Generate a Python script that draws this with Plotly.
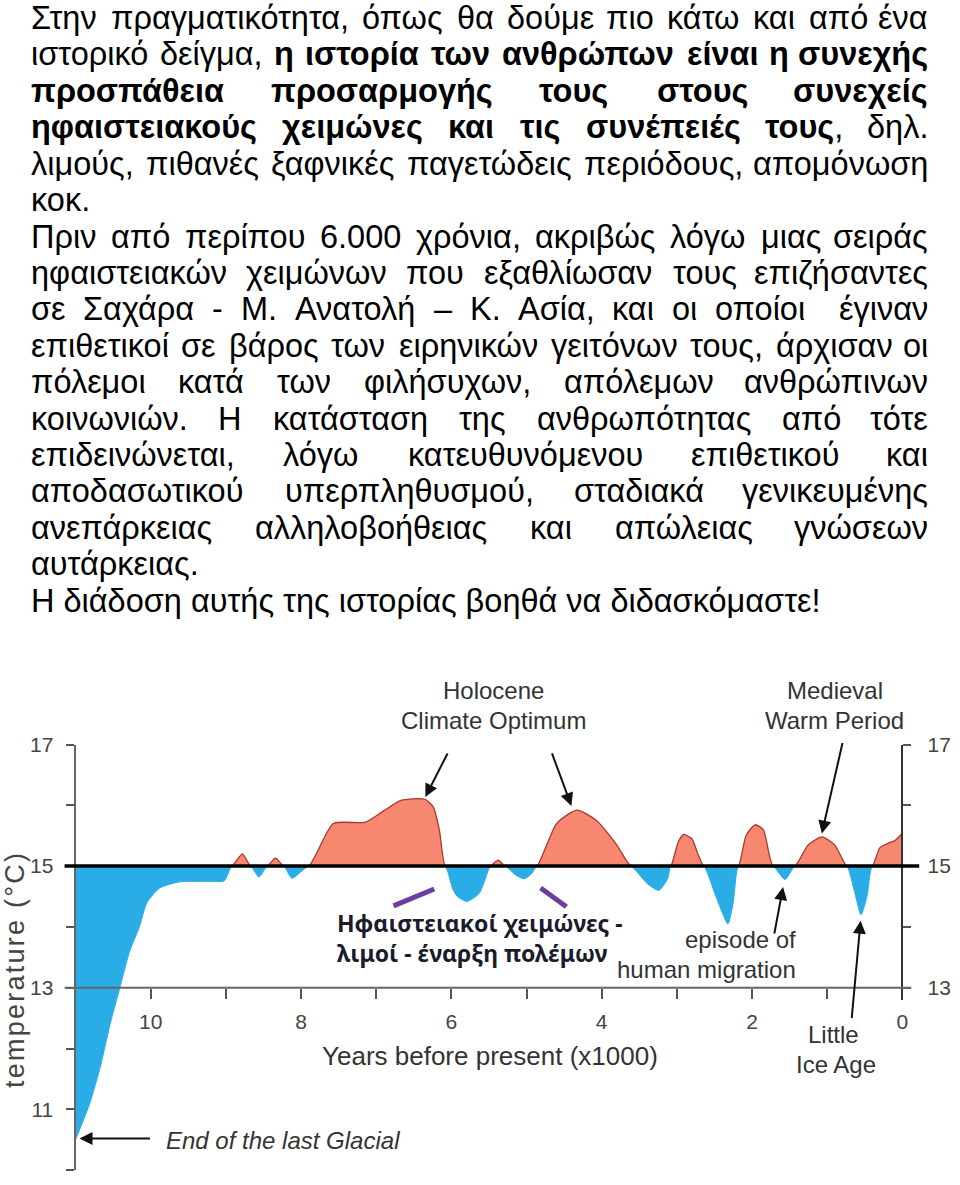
import glob
import struct
import plotly.graph_objects as go

W, H = 960, 1185

# ---------------- data ----------------
years_kbp = [11.0, 10.81, 10.67, 10.54, 10.41, 10.28, 10.15, 10.05, 9.88, 9.62, 9.25, 9.02,
             8.92, 8.78, 8.67, 8.56, 8.45, 8.34, 8.23, 8.12, 7.90, 7.57, 7.15, 6.91, 6.67,
             6.35, 6.24, 6.16, 6.08, 5.98, 5.92, 5.79, 5.63, 5.55, 5.48, 5.38, 5.28, 5.14,
             5.03, 4.93, 4.86, 4.60, 4.33, 4.07, 3.80, 3.61, 3.40, 3.24, 3.12, 3.08, 2.98,
             2.91, 2.80, 2.72, 2.64, 2.48, 2.32, 2.25, 2.18, 2.08, 1.96, 1.85, 1.72, 1.56,
             1.43, 1.25, 1.07, 0.90, 0.74, 0.64, 0.55, 0.47, 0.40, 0.30, 0.20, 0.10, 0.03, 0.0]
temperature_c = [10.5, 11.1, 11.7, 12.4, 13.0, 13.6, 14.0, 14.4, 14.64, 14.74, 14.75, 14.76,
                 15.0, 15.2, 15.0, 14.82, 15.0, 15.13, 15.0, 14.8, 15.0, 15.7, 15.72, 15.9, 16.08,
                 16.1, 15.97, 15.6, 15.0, 14.62, 14.5, 14.42, 14.55, 14.78, 15.0, 15.1, 15.0, 14.85,
                 14.79, 14.88, 15.0, 15.7, 15.92, 15.75, 15.35, 15.0, 14.72, 14.6, 14.8, 15.0, 15.4,
                 15.52, 15.45, 15.2, 15.0, 14.5, 14.05, 14.4, 15.0, 15.5, 15.68, 15.6, 15.0, 14.78,
                 15.0, 15.35, 15.48, 15.35, 15.0, 14.6, 14.2, 14.5, 15.0, 15.3, 15.37, 15.42, 15.5, 15.55]
baseline_c = 15.0

x_tick_vals = list(range(0, 11))
x_tick_text = ["0", "", "2", "", "4", "", "6", "", "8", "", "10"]
y_tick_vals = [10, 11, 12, 13, 14, 15, 16, 17]
y_tick_text = ["", "11", "", "13", "", "15", "", "17"]
right_tick_vals = [13, 14, 15, 16, 17]
right_tick_text = ["13", "", "15", "", "17"]

text_lines = [
    ("Στην πραγματικότητα, όπως θα δούμε πιο κάτω και από ένα", True),
    ("ιστορικό δείγμα, **η ιστορία των ανθρώπων είναι η συνεχής**", True),
    ("**προσπάθεια προσαρμογής τους στους συνεχείς**", True),
    ("**ηφαιστειακούς χειμώνες και τις συνέπειές τους**, δηλ.", True),
    ("λιμούς, πιθανές ξαφνικές παγετώδεις περιόδους, απομόνωση", True),
    ("κοκ.", False),
    ("Πριν από περίπου 6.000 χρόνια, ακριβώς λόγω μιας σειράς", True),
    ("ηφαιστειακών χειμώνων που εξαθλίωσαν τους επιζήσαντες", True),
    ("σε Σαχάρα - Μ. Ανατολή – Κ. Ασία, και οι οποίοι  έγιναν", True),
    ("επιθετικοί σε βάρος των ειρηνικών γειτόνων τους, άρχισαν οι", True),
    ("πόλεμοι κατά των φιλήσυχων, απόλεμων ανθρώπινων", True),
    ("κοινωνιών. Η κατάσταση της ανθρωπότητας από τότε", True),
    ("επιδεινώνεται, λόγω κατευθυνόμενου επιθετικού και", True),
    ("αποδασωτικού υπερπληθυσμού, σταδιακά γενικευμένης", True),
    ("ανεπάρκειας αλληλοβοήθειας και απώλειας γνώσεων", True),
    ("αυτάρκειας.", False),
    ("Η διάδοση αυτής της ιστορίας βοηθά να διδασκόμαστε!", False),
]

# ---------------- font metrics (for justified paragraph) ----------------
def load_font(patterns):
    for pat in patterns:
        for path in glob.glob(pat, recursive=True):
            try:
                data = open(path, "rb").read()
                n = struct.unpack(">H", data[4:6])[0]
                tables = {}
                for i in range(n):
                    tag, cs, off, ln = struct.unpack(">4sIII", data[12 + 16 * i:28 + 16 * i])
                    tables[tag.decode("latin-1")] = off
                o = tables["head"]
                upem = struct.unpack(">H", data[o + 18:o + 20])[0]
                o = tables["hhea"]
                nhm = struct.unpack(">H", data[o + 34:o + 36])[0]
                o = tables["hmtx"]
                adv = [struct.unpack(">H", data[o + 4 * i:o + 4 * i + 2])[0] for i in range(nhm)]
                o = tables["cmap"]
                nsub = struct.unpack(">H", data[o + 2:o + 4])[0]
                cmap = {}
                for i in range(nsub):
                    pid, eid, so = struct.unpack(">HHI", data[o + 4 + 8 * i:o + 12 + 8 * i])
                    st = o + so
                    fmt = struct.unpack(">H", data[st:st + 2])[0]
                    if fmt == 4 and pid == 3 and eid == 1:
                        segx2 = struct.unpack(">H", data[st + 6:st + 8])[0]
                        seg = segx2 // 2
                        ends = struct.unpack(">%dH" % seg, data[st + 14:st + 14 + segx2])
                        starts = struct.unpack(">%dH" % seg, data[st + 16 + segx2:st + 16 + 2 * segx2])
                        deltas = struct.unpack(">%dh" % seg, data[st + 16 + 2 * segx2:st + 16 + 3 * segx2])
                        rpos = st + 16 + 3 * segx2
                        roffs = struct.unpack(">%dH" % seg, data[rpos:rpos + segx2])
                        for s in range(seg):
                            for c in range(starts[s], ends[s] + 1):
                                if c == 0xFFFF:
                                    continue
                                if roffs[s] == 0:
                                    g = (c + deltas[s]) & 0xFFFF
                                else:
                                    a = rpos + 2 * s + roffs[s] + 2 * (c - starts[s])
                                    g = struct.unpack(">H", data[a:a + 2])[0]
                                    if g:
                                        g = (g + deltas[s]) & 0xFFFF
                                cmap[c] = g
                        break
                if cmap:
                    return lambda ch: adv[min(cmap.get(ord(ch), 0), nhm - 1)] / upem
            except Exception:
                pass
    return lambda ch: 0.278 if ch in " .,!-" else 0.55


reg_w = load_font(["/usr/share/fonts/**/LiberationSans-Regular.ttf"])
bold_w = load_font(["/usr/share/fonts/**/LiberationSans-Bold.ttf"])

TXT_FONT = "Liberation Sans, Arial, sans-serif"
TXT_SIZE = 32.5
LEFT, RIGHT = 30, 935
LINE0, LSTEP = 6, 36.8


def parse_words(s):
    words, cur, bold, i = [], [], False, 0
    while i < len(s):
        if s.startswith("**", i):
            bold = not bold
            i += 2
            continue
        ch = s[i]
        if ch == " ":
            words.append(cur)
            cur = []
        else:
            cur.append((ch, bold))
        i += 1
    words.append(cur)
    return words


def word_html(word):
    out, cur, cb = "", "", None
    for ch, b in word:
        if cb is None or b == cb:
            cur += ch
        else:
            out += ("<b>%s</b>" % cur) if cb else cur
            cur = ch
        cb = b
    if cur:
        out += ("<b>%s</b>" % cur) if cb else cur
    return out


def word_width(word):
    return sum((bold_w(ch) if b else reg_w(ch)) * TXT_SIZE for ch, b in word)


def xp(px):
    return px / W


def yp(py):
    return 1 - py / H


annotations = []
for li, (line, justify) in enumerate(text_lines):
    ypos = yp(LINE0 + LSTEP * li)
    words = parse_words(line)
    if not justify:
        annotations.append(dict(x=xp(LEFT), y=ypos, xref="paper", yref="paper", xanchor="left",
                                yanchor="middle", showarrow=False, borderpad=0,
                                text=" ".join(word_html(w) for w in words),
                                font=dict(family=TXT_FONT, size=TXT_SIZE, color="#000")))
        continue
    widths = [word_width(w) for w in words]
    gap = (RIGHT - LEFT - sum(widths)) / (len(words) - 1)
    cx = LEFT
    for k, w in enumerate(words):
        if w:
            last = k == len(words) - 1
            annotations.append(dict(x=xp(RIGHT if last else cx), y=ypos, xref="paper", yref="paper",
                                    xanchor="right" if last else "left", yanchor="middle",
                                    showarrow=False, borderpad=0, text=word_html(w),
                                    font=dict(family=TXT_FONT, size=TXT_SIZE, color="#000")))
        cx += widths[k] + gap

# ---------------- chart geometry ----------------
X_L, X_R = 76, 908        # pixel x of 11 kyr and 0 kyr
Y_T, Y_B = 740, 1170      # pixel y of 17 and 10 degC
PPU = (Y_B - Y_T) / 7.0


def ty(t):
    return Y_T + (17 - t) * PPU


upper = [max(t, baseline_c) for t in temperature_c]
lower = [min(t, baseline_c) for t in temperature_c]
base = [baseline_c] * len(years_kbp)

RED = "#F8876F"
BLUE = "#2AADE6"

fig = go.Figure()
fig.add_trace(go.Scatter(x=years_kbp, y=base, mode="lines", line=dict(width=0),
                         hoverinfo="skip", showlegend=False))
fig.add_trace(go.Scatter(x=years_kbp, y=upper, mode="lines", fill="tonexty", fillcolor=RED,
                         line=dict(color="#A8382E", width=1.3, shape="spline", smoothing=0.6),
                         hoverinfo="skip", showlegend=False))
fig.add_trace(go.Scatter(x=years_kbp, y=base, mode="lines", line=dict(width=0),
                         hoverinfo="skip", showlegend=False))
fig.add_trace(go.Scatter(x=years_kbp, y=lower, mode="lines", fill="tonexty", fillcolor=BLUE,
                         line=dict(color="#2AADE6", width=1, shape="spline", smoothing=0.6),
                         hoverinfo="skip", showlegend=False))
fig.add_trace(go.Scatter(x=[0], y=[15], yaxis="y2", mode="markers", opacity=0,
                         hoverinfo="skip", showlegend=False))

AX_FONT = dict(family="Liberation Sans, Arial, sans-serif", size=21, color="#444")

fig.update_layout(
    width=W, height=H, margin=dict(l=0, r=0, t=0, b=0),
    paper_bgcolor="white", plot_bgcolor="rgba(0,0,0,0)",
    xaxis=dict(range=[11, 0], domain=[xp(X_L), xp(X_R)], anchor="free", position=yp(ty(13)),
               showgrid=False, zeroline=False, showline=False,
               tickmode="array", tickvals=x_tick_vals, ticktext=x_tick_text,
               ticks="outside", ticklen=10, tickwidth=2, tickcolor="#555",
               ticklabelstandoff=5, tickfont=AX_FONT),
    yaxis=dict(range=[10, 17], domain=[yp(Y_B), yp(Y_T)], anchor="x",
               showgrid=False, zeroline=False, showline=True, linecolor="#666", linewidth=2,
               tickmode="array", tickvals=y_tick_vals, ticktext=y_tick_text,
               ticks="outside", ticklen=8, tickwidth=2, tickcolor="#555",
               ticklabelstandoff=8, tickfont=AX_FONT),
    yaxis2=dict(range=[12.8, 17], domain=[yp(ty(12.8)), yp(Y_T)], anchor="free",
                position=xp(X_R), side="right",
                showgrid=False, zeroline=False, showline=True, linecolor="#333", linewidth=2,
                tickmode="array", tickvals=right_tick_vals, ticktext=right_tick_text,
                ticks="outside", ticklen=8, tickwidth=2, tickcolor="#555",
                ticklabelstandoff=12, tickfont=AX_FONT),
)

shapes = [
    dict(type="line", xref="paper", yref="y", x0=xp(65), x1=xp(917), y0=13, y1=13,
         line=dict(color="#666", width=2), layer="above"),
    dict(type="line", xref="paper", yref="y", x0=xp(65), x1=xp(925), y0=baseline_c, y1=baseline_c,
         line=dict(color="#000", width=3.5), layer="above"),
    dict(type="line", xref="paper", yref="paper", x0=xp(396), y0=yp(903), x1=xp(437), y1=yp(886),
         line=dict(color="#6B3FA0", width=5), layer="above"),
    dict(type="line", xref="paper", yref="paper", x0=xp(544), y0=yp(885), x1=xp(570), y1=yp(904),
         line=dict(color="#6B3FA0", width=5), layer="above"),
]
fig.update_layout(shapes=shapes)

LBL = dict(family="Liberation Sans, Arial, sans-serif", size=24, color="#333")


def label(text, x, y, anchor="center", font=LBL, angle=0):
    annotations.append(dict(x=xp(x), y=yp(y), xref="paper", yref="paper", xanchor=anchor,
                            yanchor="middle", showarrow=False, text=text, font=font,
                            textangle=angle, align=anchor if anchor != "center" else "center"))


label("Holocene", 497, 685)
label("Climate Optimum", 497, 716)
label("Medieval", 840, 685)
label("Warm Period", 840, 716)
label("episode of", 803, 937, anchor="right")
label("human migration", 803, 967, anchor="right")
label("Little", 839, 1033)
label("Ice Age", 841, 1063)
label("<i>End of the last Glacial</i>", 165, 1140, anchor="left")
label("Years before present (x1000)", 493, 1055,
      font=dict(family="Liberation Sans, Arial, sans-serif", size=26, color="#333"))
label("t\u200ae\u200am\u200ap\u200ae\u200ar\u200aa\u200at\u200au\u200ar\u200ae\u200a \u200a(\u200a°\u200aC\u200a)",
      15, 968, angle=-90,
      font=dict(family="Liberation Sans, Arial, sans-serif", size=27, color="#444"))
GRK = dict(family="Noto Sans, Open Sans, sans-serif", size=23, color="#1b1b2e")
label("<b>Ηφαιστειακοί χειμώνες -</b>", 337, 920, anchor="left", font=GRK)
label("<b>λιμοί - έναρξη πολέμων</b>", 337, 951, anchor="left", font=GRK)


def kx(px):
    return 11 - (px - X_L) / (X_R - X_L) * 11


def ky(py):
    return 17 - (py - Y_T) / PPU


arrows = [  # (tail_px, tail_py, tip_px, tip_py)
    (451, 748, 428, 793),
    (555, 748, 575, 802),
    (848, 738, 827, 830),
    (779, 932, 788, 884),
    (857, 1017, 866, 918),
    (152, 1138, 80, 1138),
]
for tx, tyy, hx, hy in arrows:
    annotations.append(dict(x=kx(hx), y=ky(hy), xref="x", yref="y", ax=tx - hx, ay=tyy - hy,
                            axref="pixel", ayref="pixel", text="", showarrow=True,
                            arrowhead=2, arrowsize=1.3, arrowwidth=2, arrowcolor="#111",
                            standoff=0))

fig.update_layout(annotations=annotations)
fig.write_html("out.html")
